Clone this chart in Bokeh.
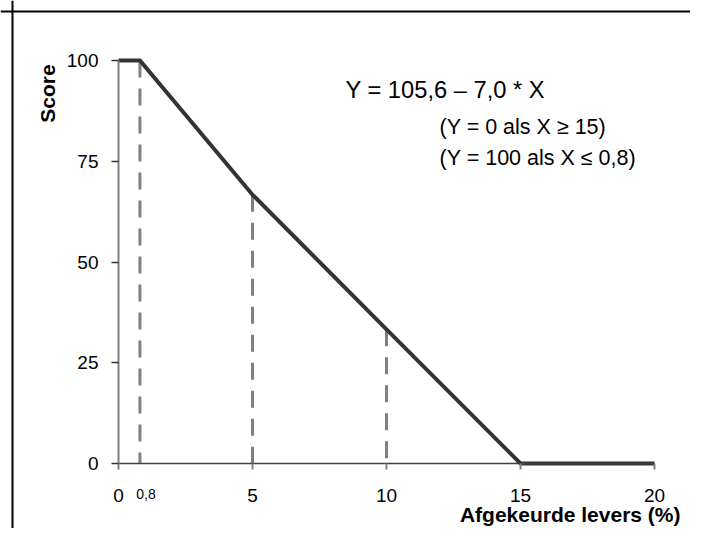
from bokeh.plotting import figure
from bokeh.models import Range1d, FixedTicker, Label, Span
from bokeh.embed import file_html
from bokeh.resources import INLINE
import math

# data
x_pts = [0, 0.8, 5, 10, 15, 20]
y_pts = [100, 100, 66.7, 33.3, 0, 0]
drop_x = [0.8, 5, 10]
drop_y = [100, 66.7, 33.3]
x_ticks = [0, 5, 10, 15, 20]
y_ticks = [0, 25, 50, 75, 100]
extra_x_tick = 0.8
extra_x_label = "0,8"
x_title = "Afgekeurde levers (%)"
y_title = "Score"
formula = "Y = 105,6 \u2013 7,0 * X"
cond1 = "(Y = 0 als X \u2265 15)"
cond2 = "(Y = 100 als X \u2264 0,8)"

FONT = "Liberation Sans"

# layout (canvas pixels)
W, H = 690, 528
X0_PX, X20_PX = 118, 654
Y100_PX, Y0_PX = 60, 463
sx = (X20_PX - X0_PX) / 20.0
sy = (Y0_PX - Y100_PX) / 100.0
x_lo, x_hi = -X0_PX / sx, (W - X0_PX) / sx
y_hi, y_lo = 100 + Y100_PX / sy, -(H - Y0_PX) / sy

p = figure(width=W, height=H, output_backend="svg", toolbar_location=None,
           x_range=Range1d(x_lo, x_hi), y_range=Range1d(y_lo, y_hi),
           min_border=0, outline_line_color=None,
           background_fill_color="white", border_fill_color="white")
p.grid.visible = False

# page border (left and top only are visible)
p.add_layout(Span(location=x_lo + 12 / sx, dimension="height",
                  line_color="#000", line_width=2))
p.add_layout(Span(location=y_hi - 11 / sy, dimension="width",
                  line_color="#000", line_width=2))

# axes
xa = p.xaxis[0]
xa.fixed_location = 0
xa.ticker = FixedTicker(ticks=x_ticks)
xa.bounds = (0, 20)
xa.axis_line_color = "#404040"
xa.axis_line_width = 1.5
xa.major_tick_line_color = "#808080"
xa.major_tick_line_width = 2
xa.major_tick_out = 6
xa.major_tick_in = 0
xa.minor_tick_line_color = None
xa.major_label_text_font = FONT
xa.major_label_text_font_size = "19px"
xa.major_label_text_color = "#000"
xa.major_label_standoff = 19

ya = p.yaxis[0]
ya.fixed_location = 0
ya.ticker = FixedTicker(ticks=y_ticks)
ya.bounds = (0, 100)
ya.axis_line_color = "#808080"
ya.axis_line_width = 2
ya.major_tick_line_color = "#333333"
ya.major_tick_line_width = 1.5
ya.major_tick_out = 7
ya.major_tick_in = 0
ya.minor_tick_line_color = None
ya.major_label_text_font = FONT
ya.major_label_text_font_size = "19px"
ya.major_label_text_color = "#000"
ya.major_label_standoff = 13

# dashed drop lines (drawn from the curve down to the axis)
p.segment(x0=drop_x, y0=drop_y, x1=drop_x, y1=[0] * len(drop_x),
          line_color="#808080", line_width=3, line_dash="17 11")

# score line
p.line(x_pts, y_pts, line_color="#333333", line_width=4, line_join="miter")

# texts
p.add_layout(Label(x=extra_x_tick, y=0, text=extra_x_label, x_offset=6, y_offset=-30,
                   text_align="center", text_baseline="middle",
                   text_font=FONT, text_font_size="14px", text_color="#000"))
p.add_layout(Label(x=20, y=0, text=x_title, x_offset=26, y_offset=-51,
                   text_align="right", text_baseline="middle",
                   text_font=FONT, text_font_size="21px", text_font_style="bold",
                   text_color="#000"))
p.add_layout(Label(x=0, y=100, text=y_title, x_offset=-71, y_offset=-33,
                   angle=math.pi / 2, text_align="center", text_baseline="middle",
                   text_font=FONT, text_font_size="21px", text_font_style="bold",
                   text_color="#000"))
p.add_layout(Label(x=8.47, y=92.6, text=formula, text_align="left",
                   text_baseline="middle", text_font=FONT, text_font_size="23.7px",
                   text_color="#000"))
p.add_layout(Label(x=11.98, y=83.4, text=cond1, text_align="left",
                   text_baseline="middle", text_font=FONT, text_font_size="21.5px",
                   text_color="#000"))
p.add_layout(Label(x=11.98, y=75.9, text=cond2, text_align="left",
                   text_baseline="middle", text_font=FONT, text_font_size="21.5px",
                   text_color="#000"))

open("out.html", "w").write(file_html(p, INLINE))
